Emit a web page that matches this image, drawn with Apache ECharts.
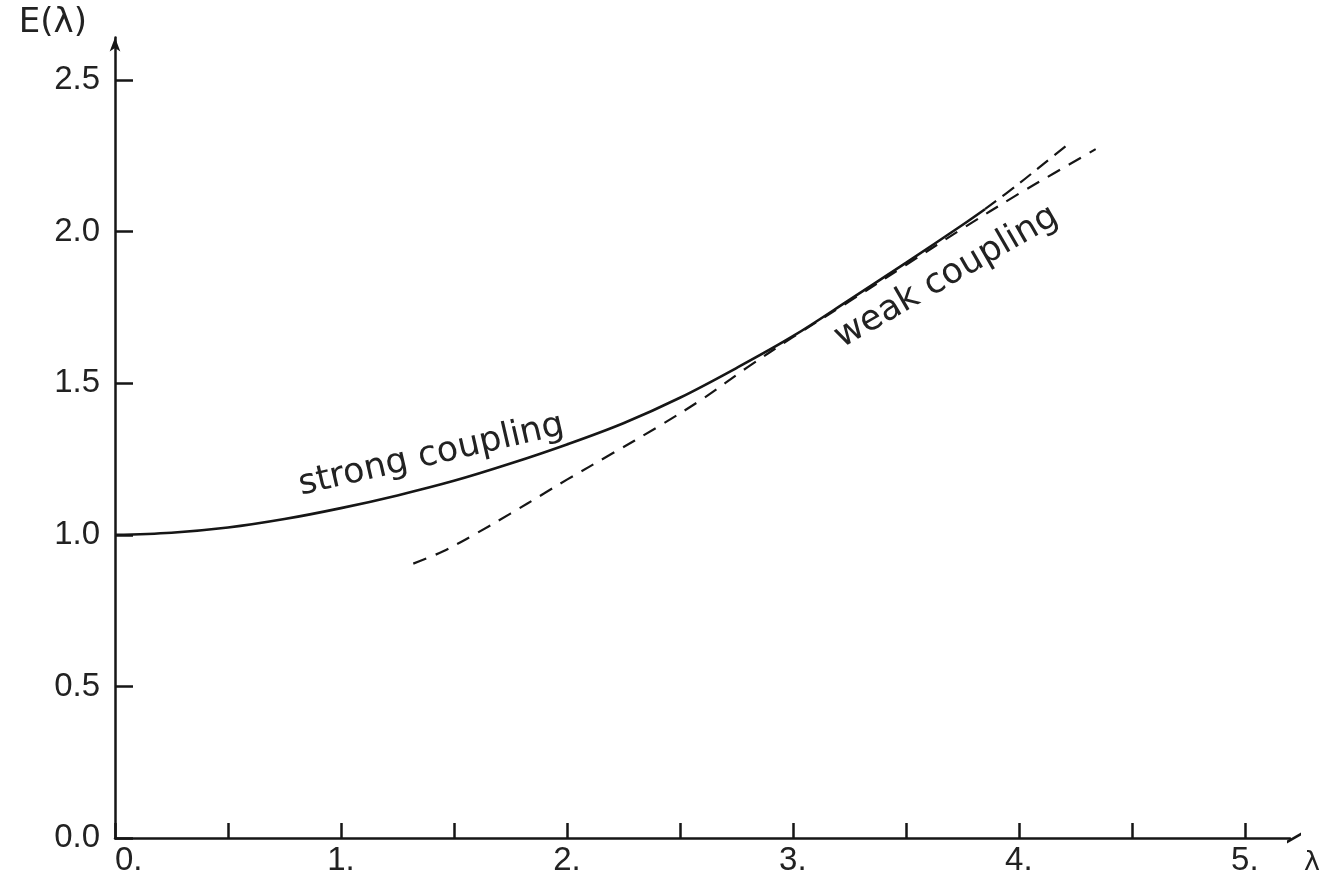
<!DOCTYPE html>
<html>
<head>
<meta charset="utf-8">
<script src="https://cdn.jsdelivr.net/npm/echarts@6/dist/echarts.min.js"></script>
<style>
  html, body { margin: 0; padding: 0; background: #fff; }
  #chart { width: 1325px; height: 889px; }
</style>
</head>
<body>
<div id="chart"></div>
<script>
// Strong-coupling curve E(λ), solid part
const lambdaStrong = [0, 0.25, 0.5, 0.75, 1.0, 1.25, 1.5, 1.75, 2.0, 2.25, 2.5, 2.75, 3.0, 3.25, 3.5, 3.75, 3.85];
const energyStrong = [1.000, 1.007, 1.024, 1.052, 1.088, 1.130, 1.178, 1.235, 1.298, 1.368, 1.452, 1.550, 1.655, 1.775, 1.897, 2.022, 2.074];
// Strong-coupling curve, dashed continuation
const lambdaStrongTail = [3.85, 4.0, 4.1, 4.23];
const energyStrongTail = [2.074, 2.158, 2.218, 2.295];
// Weak-coupling curve (dashed)
const lambdaWeak = [1.32, 1.45, 1.6, 1.75, 1.9, 2.0, 2.2, 2.4, 2.6, 2.8, 3.0, 3.25, 3.5, 3.75, 4.0, 4.15, 4.34];
const energyWeak = [0.905, 0.945, 1.005, 1.07, 1.137, 1.182, 1.268, 1.355, 1.448, 1.553, 1.652, 1.770, 1.890, 2.010, 2.125, 2.190, 2.272];
// Axis ticks and labels
const xTicks = [0, 0.5, 1, 1.5, 2, 2.5, 3, 3.5, 4, 4.5, 5];
const xTickLabels = [0, 1, 2, 3, 4, 5];
const yTicks = [0, 0.5, 1.0, 1.5, 2.0, 2.5];

const pairs = (xs, ys) => xs.map((x, i) => [x, ys[i]]);

const INK = '#161616';
const labelFont = { fontFamily: 'Liberation Sans', fontSize: 33, color: '#222' };
const curveFont = { fontFamily: 'DejaVu Sans', fontSize: 35, color: '#222' };

const chart = echarts.init(document.getElementById('chart'), null, { renderer: 'canvas' });

chart.setOption({
  backgroundColor: '#ffffff',
  animation: false,
  grid: { left: 115, right: 35, top: 37.6, bottom: 51, containLabel: false, outerBoundsMode: 'none' },
  xAxis: {
    type: 'value',
    min: 0,
    max: 5.2,
    interval: 0.5,
    name: 'λ',
    nameLocation: 'end',
    nameGap: 14,
    nameTextStyle: { fontFamily: 'DejaVu Sans', fontSize: 27, color: '#222', align: 'left', verticalAlign: 'top', lineHeight: 50 },
    splitLine: { show: false },
    axisLine: {
      lineStyle: { color: INK, width: 2.5 },
      symbol: ['none', 'path://M0,0 L3,0 L11,14 L8,14 Z'],
      symbolSize: [11, 16],
      symbolOffset: [0, 4]
    },
    axisTick: { inside: true, length: 15, lineStyle: { color: INK, width: 2.5 }, customValues: xTicks },
    axisLabel: {
      ...labelFont,
      margin: 6,
      customValues: xTickLabels,
      alignMinLabel: 'left',
      formatter: v => v.toFixed(0) + '.'
    }
  },
  yAxis: {
    type: 'value',
    min: 0,
    max: 2.64,
    interval: 0.5,
    name: 'E(λ)',
    nameLocation: 'end',
    nameGap: 14,
    nameTextStyle: { fontFamily: 'DejaVu Sans', fontSize: 34, color: '#222', align: 'right', verticalAlign: 'middle', padding: [0, 28, 0, 0] },
    splitLine: { show: false },
    axisLine: {
      lineStyle: { color: INK, width: 2.5 },
      symbol: ['none', 'arrow'],
      symbolSize: [8, 14]
    },
    axisTick: { inside: true, length: 18, lineStyle: { color: INK, width: 2.5 }, customValues: yTicks },
    axisLabel: {
      ...labelFont,
      margin: 15,
      customValues: yTicks,
      formatter: v => v.toFixed(1)
    }
  },
  series: [
    {
      name: 'strong coupling',
      type: 'line',
      data: pairs(lambdaStrong, energyStrong),
      smooth: 0.35,
      showSymbol: false,
      lineStyle: { color: INK, width: 2.6 },
      z: 3,
      markPoint: {
        symbol: 'circle',
        symbolSize: 0,
        data: [{ coord: [1.4, 1.262], value: 'strong coupling' }],
        label: { show: true, position: 'inside', rotate: 13, formatter: 'strong coupling', ...curveFont }
      }
    },
    {
      name: 'strong coupling (continued)',
      type: 'line',
      data: pairs(lambdaStrongTail, energyStrongTail),
      smooth: 0.35,
      showSymbol: false,
      lineStyle: { color: INK, width: 2.2, type: [14, 8] },
      z: 3
    },
    {
      name: 'weak coupling',
      type: 'line',
      data: pairs(lambdaWeak, energyWeak),
      smooth: 0.35,
      showSymbol: false,
      lineStyle: { color: INK, width: 2.2, type: [14, 10] },
      z: 2,
      markPoint: {
        symbol: 'circle',
        symbolSize: 0,
        data: [{ coord: [3.68, 1.85], value: 'weak coupling' }],
        label: { show: true, position: 'inside', rotate: 30, formatter: 'weak coupling', ...curveFont }
      }
    }
  ]
});
</script>
</body>
</html>
